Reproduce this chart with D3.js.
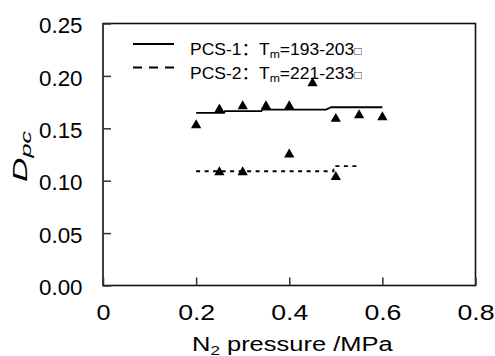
<!DOCTYPE html>
<html><head><meta charset="utf-8">
<script src="https://cdn.jsdelivr.net/npm/d3@7"></script>
<style>body{margin:0;background:#fff}svg{display:block}</style>
</head><body><svg id="c" width="495" height="356"></svg>
<script>
// data
const pcs1X = [0.20, 0.25, 0.30, 0.35, 0.40, 0.45, 0.50, 0.55, 0.60];
const pcs1Y = [0.153, 0.168, 0.171, 0.171, 0.171, 0.193, 0.159, 0.1625, 0.1605];
const pcs2X = [0.25, 0.30, 0.40, 0.50];
const pcs2Y = [0.108, 0.108, 0.125, 0.1035];
const fit1X = [0.20, 0.26, 0.262, 0.34, 0.342, 0.479, 0.49, 0.60];
const fit1Y = [0.1648, 0.1648, 0.1663, 0.1663, 0.1679, 0.1679, 0.1701, 0.1701];
const fit2X = [0.20, 0.495, 0.495, 0.55];
const fit2Y = [0.109, 0.109, 0.114, 0.114];
const xTicks = [0, 0.2, 0.4, 0.6, 0.8];
const xTickLabels = ["0", "0.2", "0.4", "0.6", "0.8"];
const yTicks = [0, 0.05, 0.10, 0.15, 0.20, 0.25];
const yTickLabels = ["0.00", "0.05", "0.10", "0.15", "0.20", "0.25"];
const legendLabels = [
  {name: "PCS-1：T", sub: "m", rest: "=193-203"},
  {name: "PCS-2：T", sub: "m", rest: "=221-233"}
];

const svg = d3.select("#c");
const font = "'Liberation Sans', Arial, 'Noto Sans CJK SC', sans-serif";
const x = d3.scaleLinear().domain([0, 0.8]).range([103, 475.5]);
const y = d3.scaleLinear().domain([0, 0.25]).range([285.5, 23.5]);

// frame
svg.append("rect").attr("x", x(0)).attr("y", y(0.25))
  .attr("width", x(0.8) - x(0)).attr("height", y(0) - y(0.25))
  .attr("fill", "none").attr("stroke", "#111").attr("stroke-width", 1.6);

// axes with inward ticks
const xa = svg.append("g").attr("transform", `translate(0,${y(0)})`)
  .call(d3.axisBottom(x).tickValues(xTicks).tickFormat((d, i) => xTickLabels[i]).tickSizeInner(-8).tickSizeOuter(0).tickPadding(19.5));
const ya = svg.append("g").attr("transform", `translate(${x(0)},0)`)
  .call(d3.axisLeft(y).tickValues(yTicks).tickFormat((d, i) => yTickLabels[i]).tickSizeInner(-8).tickSizeOuter(0).tickPadding(20.5));
[xa, ya].forEach(g => {
  g.select(".domain").remove();
  g.selectAll("line").attr("stroke", "#333").attr("stroke-width", 1.5);
  g.selectAll("text").attr("font-family", font).attr("font-size", 21.5).attr("fill", "#000")
    .attr("lengthAdjust", "spacingAndGlyphs");
});
ya.selectAll("text").attr("dy", "0.43em").attr("textLength", 43.5);
xa.selectAll("text").attr("dy", "0.71em").attr("textLength", (d, i) => i === 0 ? 14 : 37);

// fit lines
const line = d3.line().x(d => x(d[0])).y(d => y(d[1]));
svg.append("path").datum(d3.zip(fit1X, fit1Y)).attr("d", line)
  .attr("fill", "none").attr("stroke", "#000").attr("stroke-width", 1.8);
svg.append("path").datum(d3.zip(fit2X, fit2Y)).attr("d", line)
  .attr("fill", "none").attr("stroke", "#000").attr("stroke-width", 1.8).attr("stroke-dasharray", "4,4.5");

// points
const tri = d3.symbol().type(d3.symbolTriangle).size(46);
svg.append("g").selectAll("path").data(d3.zip(pcs1X, pcs1Y).concat(d3.zip(pcs2X, pcs2Y)))
  .join("path").attr("d", tri)
  .attr("transform", d => `translate(${x(d[0])},${y(d[1])})`).attr("fill", "#000");

// legend
const lg = svg.append("g");
const rows = [44, 67.5];
lg.append("line").attr("x1", 133).attr("x2", 174).attr("y1", rows[0]).attr("y2", rows[0])
  .attr("stroke", "#000").attr("stroke-width", 2);
lg.append("line").attr("x1", 133).attr("x2", 174).attr("y1", rows[1]).attr("y2", rows[1])
  .attr("stroke", "#000").attr("stroke-width", 2).attr("stroke-dasharray", "9,7");
legendLabels.forEach((l, i) => {
  const g = lg.append("g");
  const t = g.append("text").attr("x", 0).attr("y", 0)
    .attr("font-family", font).attr("font-size", 16.5).attr("fill", "#000");
  t.append("tspan").text(l.name);
  t.append("tspan").attr("font-size", 11.5).attr("dy", 3).text(l.sub);
  t.append("tspan").attr("dy", -3).text(l.rest);
  t.append("tspan").attr("font-size", 12).attr("fill", "#444").text("□");
  const w = t.node().getBBox().width;
  g.attr("transform", `translate(190,${rows[i] + 11}) scale(${172 / w},1)`);
});

// axis titles
const xg = svg.append("g");
const xt = xg.append("text").attr("x", 0).attr("y", 0)
  .attr("font-family", font).attr("font-size", 19.5).attr("fill", "#000");
xt.append("tspan").text("N");
xt.append("tspan").attr("font-size", 13).attr("dy", 3.5).text("2");
xt.append("tspan").attr("dy", -3.5).text(" pressure /MPa");
const xw = xt.node().getBBox().width;
xg.attr("transform", `translate(192,351) scale(${201 / xw},1)`);

const yg = svg.append("g");
const yt = yg.append("text").attr("x", 0).attr("y", 0)
  .attr("font-family", font).attr("font-size", 20)
  .attr("font-style", "italic").attr("fill", "#000");
yt.append("tspan").text("D");
yt.append("tspan").attr("font-size", 15).attr("dy", 4).text("pc");
const yw = yt.node().getBBox().width;
yg.attr("transform", `translate(27,182) rotate(-90) scale(${52 / yw},1)`);
</script></body></html>
